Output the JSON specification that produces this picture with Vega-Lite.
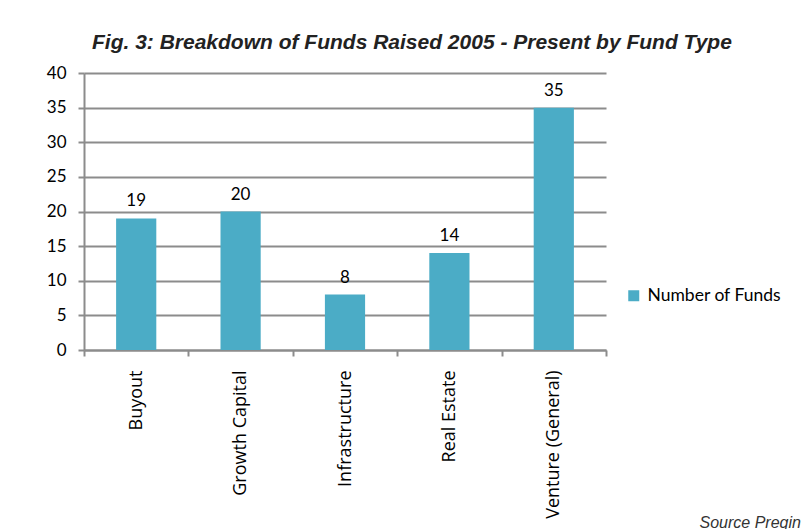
{
  "$schema": "https://vega.github.io/schema/vega-lite/v6.json",
  "width": 522,
  "height": 277,
  "autosize": {"type": "none"},
  "padding": {"left": 84, "top": 73, "right": 203, "bottom": 179},
  "background": "white",
  "title": {
    "text": "Fig. 3: Breakdown of Funds Raised 2005 - Present by Fund Type",
    "font": "Liberation Sans",
    "fontSize": 21,
    "fontWeight": "bold",
    "fontStyle": "italic",
    "color": "#222222",
    "anchor": "start",
    "frame": "group",
    "dx": 8,
    "baseline": "alphabetic",
    "offset": -6
  },
  "data": {
    "values": [
      {"type": "Buyout", "funds": 19},
      {"type": "Growth Capital", "funds": 20},
      {"type": "Infrastructure", "funds": 8},
      {"type": "Real Estate", "funds": 14},
      {"type": "Venture (General)", "funds": 35}
    ]
  },
  "encoding": {
    "x": {
      "field": "type",
      "type": "nominal",
      "sort": null,
      "scale": {"paddingInner": 0, "paddingOuter": 0},
      "axis": {
        "title": "Source Preqin",
        "titleFont": "Liberation Sans",
        "titleFontStyle": "italic",
        "titleFontWeight": "normal",
        "titleFontSize": 16,
        "titleColor": "#333333",
        "titleAnchor": "start",
        "titleAlign": "left",
        "titleBaseline": "alphabetic",
        "titleX": 615,
        "titleY": 177,
        "labelAngle": -90,
        "labelFont": "Open Sans",
        "labelFontSize": 18,
        "labelColor": "#000000",
        "labelPadding": 14,
        "tickBand": "extent",
        "tickSize": 6,
        "tickColor": "#8c8c8c",
        "tickWidth": 2,
        "domainColor": "#8c8c8c",
        "domainWidth": 2,
        "grid": false
      }
    },
    "y": {
      "field": "funds",
      "type": "quantitative",
      "scale": {"domain": [0, 40]},
      "axis": {
        "title": null,
        "values": [0, 5, 10, 15, 20, 25, 30, 35, 40],
        "labelFont": "Lato",
        "labelFontSize": 17,
        "labelColor": "#000000",
        "labelPadding": 12,
        "tickSize": 6,
        "tickColor": "#8c8c8c",
        "tickWidth": 2,
        "domainColor": "#8c8c8c",
        "domainWidth": 2,
        "gridColor": "#8c8c8c",
        "gridWidth": 2
      }
    }
  },
  "layer": [
    {
      "mark": {"type": "bar", "color": "#4BACC6", "width": {"band": 0.385}},
      "encoding": {
        "color": {
          "datum": "Number of Funds",
          "scale": {"range": ["#4BACC6"]},
          "legend": {
            "title": null,
            "orient": "none",
            "legendX": 541,
            "legendY": 214,
            "symbolType": "square",
            "symbolSize": 121,
            "symbolStrokeWidth": 0,
            "labelFont": "Lato",
            "labelFontSize": 17.5,
            "labelColor": "#000000",
            "labelOffset": 5
          }
        }
      }
    },
    {
      "mark": {"type": "text", "baseline": "alphabetic", "dy": -12, "font": "Lato", "fontSize": 17, "color": "#000000"},
      "encoding": {"text": {"field": "funds", "type": "quantitative"}}
    }
  ],
  "config": {"view": {"stroke": null}}
}
